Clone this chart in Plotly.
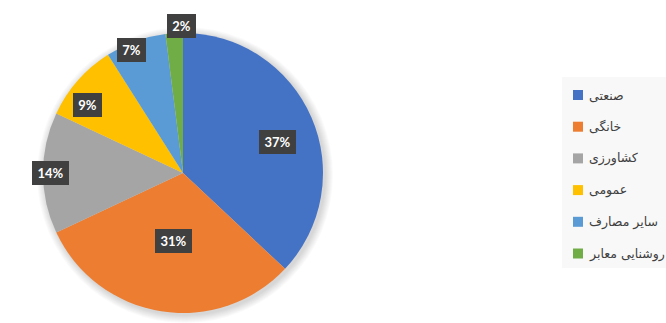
import math
import plotly.graph_objects as go

# ---- data ----
categories = ["صنعتی", "خانگی", "کشاورزی", "عمومی", "سایر مصارف", "روشنایی معابر"]
values = [37, 31, 14, 9, 7, 2]
colors = ["#4472C4", "#ED7D31", "#A5A5A5", "#FFC000", "#5B9BD5", "#70AD47"]

# ---- layout / style ----
W, H = 666, 323
cx, cy, R = 183, 173, 140           # pie centre / radius in pixels
label_r = [0.711, 0.494, 0.943, 0.835, 0.955, 1.05]   # radial position of each data label
label_dth = [5.0, -0.7, 0.0, -5.8, -2.8, 3.2]        # angular nudge (deg) of each data label
leg_x0, leg_x1, leg_y0, leg_y1 = 562, 666, 77, 268
leg_first, leg_step = 95, 31.7

def px(x):
    return x / W

def py(y):
    return 1 - y / H

fig = go.Figure()

# soft shadow behind pie
shapes = []
for i in range(8):
    g = 8 - i
    shapes.append(dict(type="circle", xref="paper", yref="paper", layer="below",
                       x0=px(cx - R - g + 2), x1=px(cx + R + g + 2),
                       y0=py(cy + R + g + 2), y1=py(cy - R - g + 2),
                       fillcolor="rgba(0,0,0,0.02)", line=dict(width=0)))

fig.add_trace(go.Pie(
    labels=categories, values=values, sort=False, direction="clockwise", rotation=0,
    marker=dict(colors=colors, line=dict(width=0)),
    textinfo="none", hoverinfo="label+percent", showlegend=False,
    domain=dict(x=[px(cx - R), px(cx + R)], y=[py(cy + R), py(cy - R)]),
))

# data labels
total = sum(values)
annotations = []
cum = 0
for v, f, dth in zip(values, label_r, label_dth):
    mid = (cum + v / 2) / total * 2 * math.pi + math.radians(dth)
    cum += v
    lx = cx + R * f * math.sin(mid)
    ly = cy - R * f * math.cos(mid)
    txt = f"{round(v / total * 100)}%"
    annotations.append(dict(
        x=px(lx), y=py(ly), xref="paper", yref="paper", showarrow=False,
        text=f"<b>{txt}</b>", font=dict(family="Lato", size=13, color="white"),
        bgcolor="#404040", bordercolor="#404040", borderwidth=1, borderpad=3,
        width=8 * len(txt) + 5, height=16, xanchor="center", yanchor="middle"))

# legend (manual)
shapes.append(dict(type="rect", xref="paper", yref="paper", layer="below",
                   x0=px(leg_x0), x1=px(leg_x1), y0=py(leg_y1), y1=py(leg_y0),
                   fillcolor="#F8F8F8", line=dict(width=0)))
for i, (c, col) in enumerate(zip(categories, colors)):
    yy = leg_first + i * leg_step
    shapes.append(dict(type="rect", xref="paper", yref="paper",
                       x0=px(573), x1=px(583), y0=py(yy + 5), y1=py(yy - 5),
                       fillcolor=col, line=dict(width=0)))
    annotations.append(dict(x=px(587), y=py(yy), xref="paper", yref="paper",
                            showarrow=False, text=c, xanchor="left", yanchor="middle",
                            font=dict(family="DejaVu Sans", size=12.5, color="#404040")))

fig.update_layout(
    width=W, height=H, margin=dict(l=0, r=0, t=0, b=0),
    paper_bgcolor="white", plot_bgcolor="white",
    shapes=shapes, annotations=annotations,
)

fig.write_html("out.html")
